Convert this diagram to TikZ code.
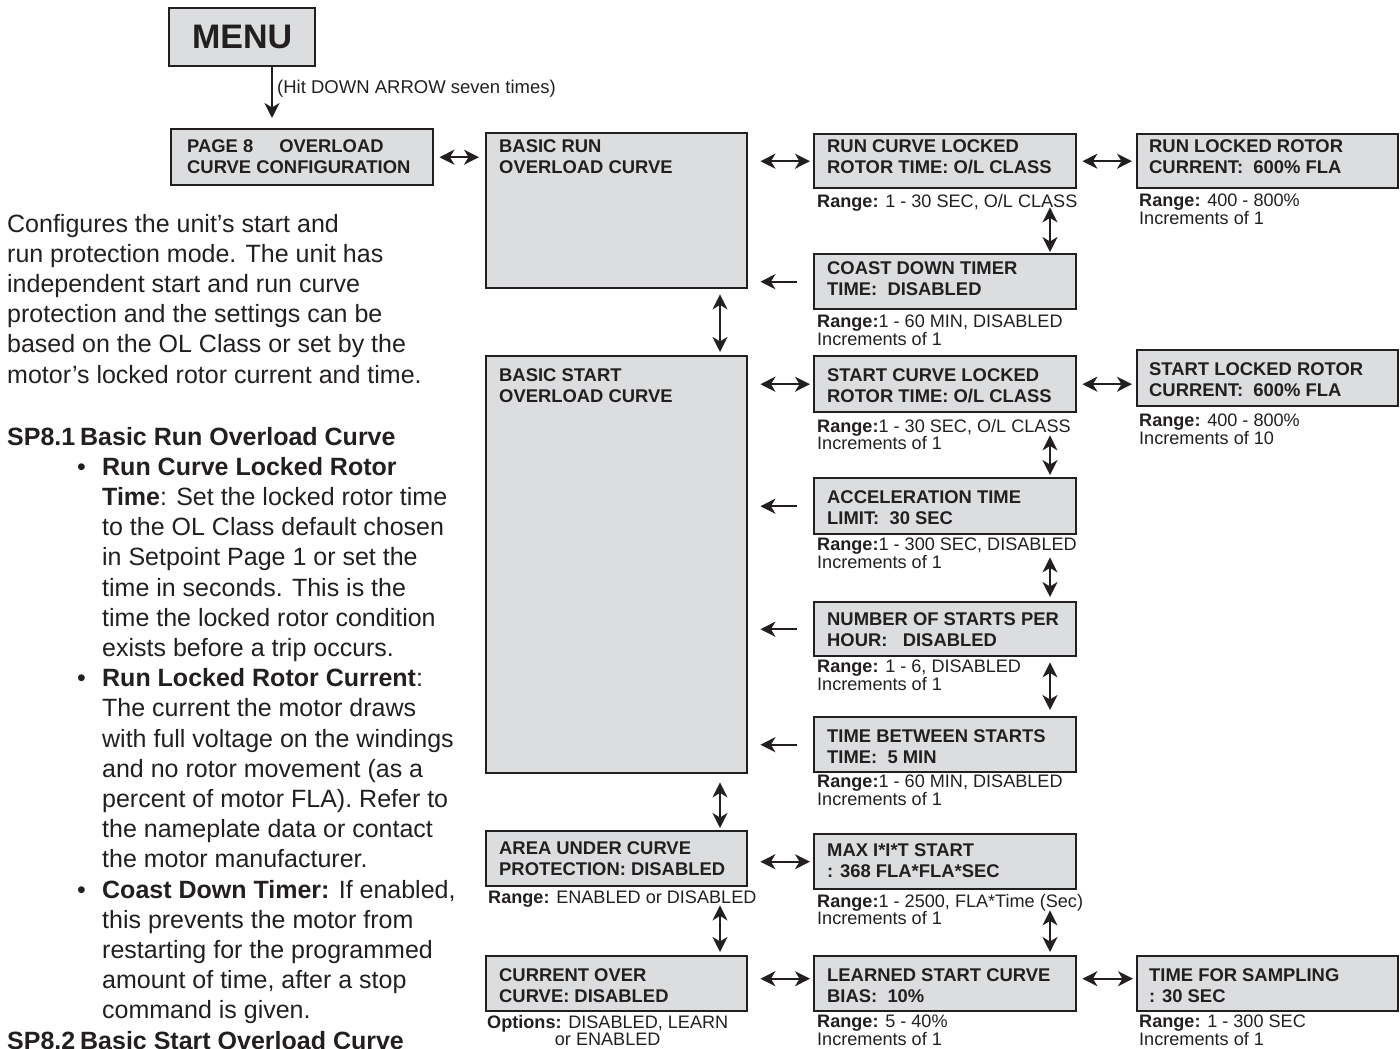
\documentclass[tikz,border=0pt]{standalone}
\usepackage{fontspec}
\setmainfont{Liberation Sans}
\usetikzlibrary{arrows.meta,calc}
\definecolor{ink}{RGB}{35,31,32}
\definecolor{panel}{RGB}{220,221,222}
\newcommand\fsz[2]{\fontsize{#1}{#2}\selectfont}

\begin{document}
\begin{tikzpicture}[x=1pt,y=-1pt,
  >={Stealth[length=15pt,width=15pt,inset=4.5pt]},
  panelbox/.style={draw=ink, line width=2.4pt, fill=panel, rectangle, inner sep=0pt, anchor=north west},
  paneltext/.style={anchor=north west, inner sep=0pt, align=left, text=ink, font=\bfseries\fsz{18.4}{20.7}},
  rangetext/.style={anchor=north west, inner sep=0pt, align=left, text=ink, font=\fsz{18.1}{17.8}},
  bodytext/.style={anchor=north west, inner sep=0pt, align=left, text=ink, font=\fsz{25}{30.2}},
  link/.style={<->, draw=ink, line width=2.1pt},
  back/.style={->, draw=ink, line width=2.1pt},
]
\useasboundingbox (0,0) rectangle (1400,1049);
\clip (0,0) rectangle (1400,1049);

% column guides for the vertical connectors
\coordinate (colA) at (272,0);
\coordinate (colL) at (720,0);
\coordinate (colM) at (1050,0);

% ---------- menu head ----------
\node[panelbox, minimum width=146pt, minimum height=58pt, anchor=north west,
      font=\bfseries\fsz{34}{34}, text=ink] (menu) at (168,7) {MENU};
\node[anchor=base west, inner sep=0pt, text=ink, font=\fsz{18.5}{20}] (hint) at (277,93.5)
  {(Hit DOWN ARROW seven times)};

% ---------- panels ----------
\node[panelbox, minimum width=262pt, minimum height=56pt] (page8) at (170,128) {};
\node[panelbox, minimum width=261pt, minimum height=155pt] (basicrun) at (485,132) {};
\node[panelbox, minimum width=262pt, minimum height=54pt] (runcurve) at (813,133) {};
\node[panelbox, minimum width=261pt, minimum height=54pt] (runlocked) at (1136,133) {};
\node[panelbox, minimum width=262pt, minimum height=55pt] (coast) at (813,253) {};
\node[panelbox, minimum width=261pt, minimum height=417pt] (basicstart) at (485,355) {};
\node[panelbox, minimum width=262pt, minimum height=56pt] (startcurve) at (813,355) {};
\node[panelbox, minimum width=261pt, minimum height=56pt] (startlocked) at (1136,349) {};
\node[panelbox, minimum width=262pt, minimum height=56pt] (accel) at (813,477) {};
\node[panelbox, minimum width=262pt, minimum height=54pt] (number) at (813,601) {};
\node[panelbox, minimum width=262pt, minimum height=55pt] (tbs) at (813,716) {};
\node[panelbox, minimum width=261pt, minimum height=55pt] (area) at (485,830) {};
\node[panelbox, minimum width=262pt, minimum height=55pt] (maxit) at (813,833) {};
\node[panelbox, minimum width=261pt, minimum height=55pt] (current) at (485,955) {};
\node[panelbox, minimum width=262pt, minimum height=55pt] (learned) at (813,955) {};
\node[panelbox, minimum width=261pt, minimum height=55pt] (sampling) at (1136,955) {};

% ---------- panel captions ----------
\node[paneltext] (page8T) at (187,139.5) {PAGE 8\hspace{26pt}OVERLOAD\\CURVE CONFIGURATION};
\node[paneltext] (basicrunT) at (499,139.5) {BASIC RUN\\OVERLOAD CURVE};
\node[paneltext] (runcurveT) at (827,139.5) {RUN CURVE LOCKED\\ROTOR TIME: O/L CLASS};
\node[paneltext] (runlockedT) at (1149,139.5) {RUN LOCKED ROTOR\\CURRENT:\ \ 600\% FLA};
\node[paneltext] (coastT) at (827,261.5) {COAST DOWN TIMER\\TIME:\ \ DISABLED};
\node[paneltext] (basicstartT) at (499,368.5) {BASIC START\\OVERLOAD CURVE};
\node[paneltext] (startcurveT) at (827,368.5) {START CURVE LOCKED\\ROTOR TIME: O/L CLASS};
\node[paneltext] (startlockedT) at (1149,362.5) {START LOCKED ROTOR\\CURRENT:\ \ 600\% FLA};
\node[paneltext] (accelT) at (827,490.5) {ACCELERATION TIME\\LIMIT:\ \ 30 SEC};
\node[paneltext] (numberT) at (827,612.5) {NUMBER OF STARTS PER\\HOUR:\ \ \ DISABLED};
\node[paneltext] (tbsT) at (827,729.5) {TIME BETWEEN STARTS\\TIME:\ \ 5 MIN};
\node[paneltext] (areaT) at (499,841.5) {AREA UNDER CURVE\\PROTECTION: DISABLED};
\node[paneltext] (maxitT) at (827,843.5) {MAX I*I*T START\\: 368 FLA*FLA*SEC};
\node[paneltext] (currentT) at (499,968.5) {CURRENT OVER\\CURVE: DISABLED};
\node[paneltext] (learnedT) at (827,968.5) {LEARNED START CURVE\\BIAS:\ \ 10\%};
\node[paneltext] (samplingT) at (1149,968.5) {TIME FOR SAMPLING\\: 30 SEC};

% ---------- ranges ----------
\node[rangetext] (runcurveR) at (817,193.7) {\textbf{Range:} 1 - 30 SEC, O/L CLASS};
\node[rangetext] (runlockedR) at (1139,193.7) {\textbf{Range:} 400 - 800\%\\Increments of 1};
\node[rangetext] (coastR) at (817,314.7) {\textbf{Range:}1 - 60 MIN, DISABLED\\Increments of 1};
\node[rangetext] (startcurveR) at (817,418.7) {\textbf{Range:}1 - 30 SEC, O/L CLASS\\Increments of 1};
\node[rangetext] (startlockedR) at (1139,413.7) {\textbf{Range:} 400 - 800\%\\Increments of 10};
\node[rangetext] (accelR) at (817,537.7) {\textbf{Range:}1 - 300 SEC, DISABLED\\Increments of 1};
\node[rangetext] (numberR) at (817,659.7) {\textbf{Range:} 1 - 6, DISABLED\\Increments of 1};
\node[rangetext] (tbsR) at (817,774.7) {\textbf{Range:}1 - 60 MIN, DISABLED\\Increments of 1};
\node[rangetext] (areaR) at (488,890.7) {\textbf{Range:} ENABLED or DISABLED};
\node[rangetext] (maxitR) at (817,893.7) {\textbf{Range:}1 - 2500, FLA*Time (Sec)\\Increments of 1};
\node[rangetext, align=center] (currentR) at (487,1014.7) {\textbf{Options:} DISABLED, LEARN\\or ENABLED};
\node[rangetext] (learnedR) at (817,1014.7) {\textbf{Range:} 5 - 40\%\\Increments of 1};
\node[rangetext] (samplingR) at (1139,1014.7) {\textbf{Range:} 1 - 300 SEC\\Increments of 1};

% ---------- connectors ----------
\draw[back, shorten >=10pt] (menu.south -| colA) -- (page8.north -| colA);
\draw[link, shorten <=5pt, shorten >=6pt] (page8.east) -- (page8.east -| basicrun.west);
\draw[link, shorten <=12pt, shorten >=3pt] (runcurve.west -| basicrun.east) -- (runcurve.west);
\draw[link, shorten <=5pt, shorten >=4pt] (runcurve.east) -- (runcurve.east -| runlocked.west);
\draw[back, shorten <=16pt, shorten >=12pt] (coast.west) -- (coast.west -| basicrun.east);
\draw[link, shorten <=18pt, shorten >=1pt] (runcurve.south -| colM) -- (coast.north -| colM);

\draw[link, shorten <=5pt, shorten >=3pt] (basicrun.south -| colL) -- (basicstart.north -| colL);
\draw[link, shorten <=12pt, shorten >=3pt] (startcurve.west -| basicstart.east) -- (startcurve.west);
\draw[link, shorten <=5pt, shorten >=4pt] (startcurve.east) -- (startcurve.east -| startlocked.west);
\draw[link, shorten <=22pt, shorten >=2pt] (startcurve.south -| colM) -- (accel.north -| colM);
\draw[back, shorten <=16pt, shorten >=12pt] (accel.west) -- (accel.west -| basicstart.east);
\draw[link, shorten <=22pt, shorten >=4pt] (accel.south -| colM) -- (number.north -| colM);
\draw[back, shorten <=16pt, shorten >=12pt] (number.west) -- (number.west -| basicstart.east);
\draw[link, shorten <=5pt, shorten >=6pt] (number.south -| colM) -- (tbs.north -| colM);
\draw[back, shorten <=16pt, shorten >=12pt] (tbs.west) -- (tbs.west -| basicstart.east);

\draw[link, shorten <=8pt, shorten >=2pt] (basicstart.south -| colL) -- (area.north -| colL);
\draw[link, shorten <=12pt, shorten >=3pt] (maxit.west -| area.east) -- (maxit.west);
\draw[link, shorten <=18pt, shorten >=3pt] (area.south -| colL) -- (current.north -| colL);
\draw[link, shorten <=20pt, shorten >=3pt] (maxit.south -| colM) -- (learned.north -| colM);
\coordinate (lrow) at ([yshift=5pt]learned.west);
\draw[link, shorten <=12pt, shorten >=3pt] (lrow -| current.east) -- (lrow);
\draw[link, shorten <=5pt, shorten >=3pt] (lrow -| learned.east) -- (lrow -| sampling.west);

% ---------- description column ----------
\node[bodytext] (intro) at (7,213.8) {%
Configures the unit’s start and\\
run protection mode. The unit has\\
independent start and run curve\\
protection and the settings can be\\
based on the OL Class or set by the\\
motor’s locked rotor current and time.\\[31.8pt]
\textbf{\makebox[73pt][l]{SP8.1}Basic Run Overload Curve}\\
\hspace*{70pt}\makebox[25pt][l]{•}\textbf{Run Curve Locked Rotor}\\
\hspace*{95pt}\textbf{Time}: Set the locked rotor time\\
\hspace*{95pt}to the OL Class default chosen\\
\hspace*{95pt}in Setpoint Page 1 or set the\\
\hspace*{95pt}time in seconds. This is the\\
\hspace*{95pt}time the locked rotor condition\\
\hspace*{95pt}exists before a trip occurs.\\
\hspace*{70pt}\makebox[25pt][l]{•}\textbf{Run Locked Rotor Current}:\\
\hspace*{95pt}The current the motor draws\\
\hspace*{95pt}with full voltage on the windings\\
\hspace*{95pt}and no rotor movement (as a\\
\hspace*{95pt}percent of motor FLA). Refer to\\
\hspace*{95pt}the nameplate data or contact\\
\hspace*{95pt}the motor manufacturer.\\
\hspace*{70pt}\makebox[25pt][l]{•}\textbf{Coast Down Timer:} If enabled,\\
\hspace*{95pt}this prevents the motor from\\
\hspace*{95pt}restarting for the programmed\\
\hspace*{95pt}amount of time, after a stop\\
\hspace*{95pt}command is given.\\
\textbf{\makebox[73pt][l]{SP8.2}Basic Start Overload Curve}};
\end{tikzpicture}
\end{document}
